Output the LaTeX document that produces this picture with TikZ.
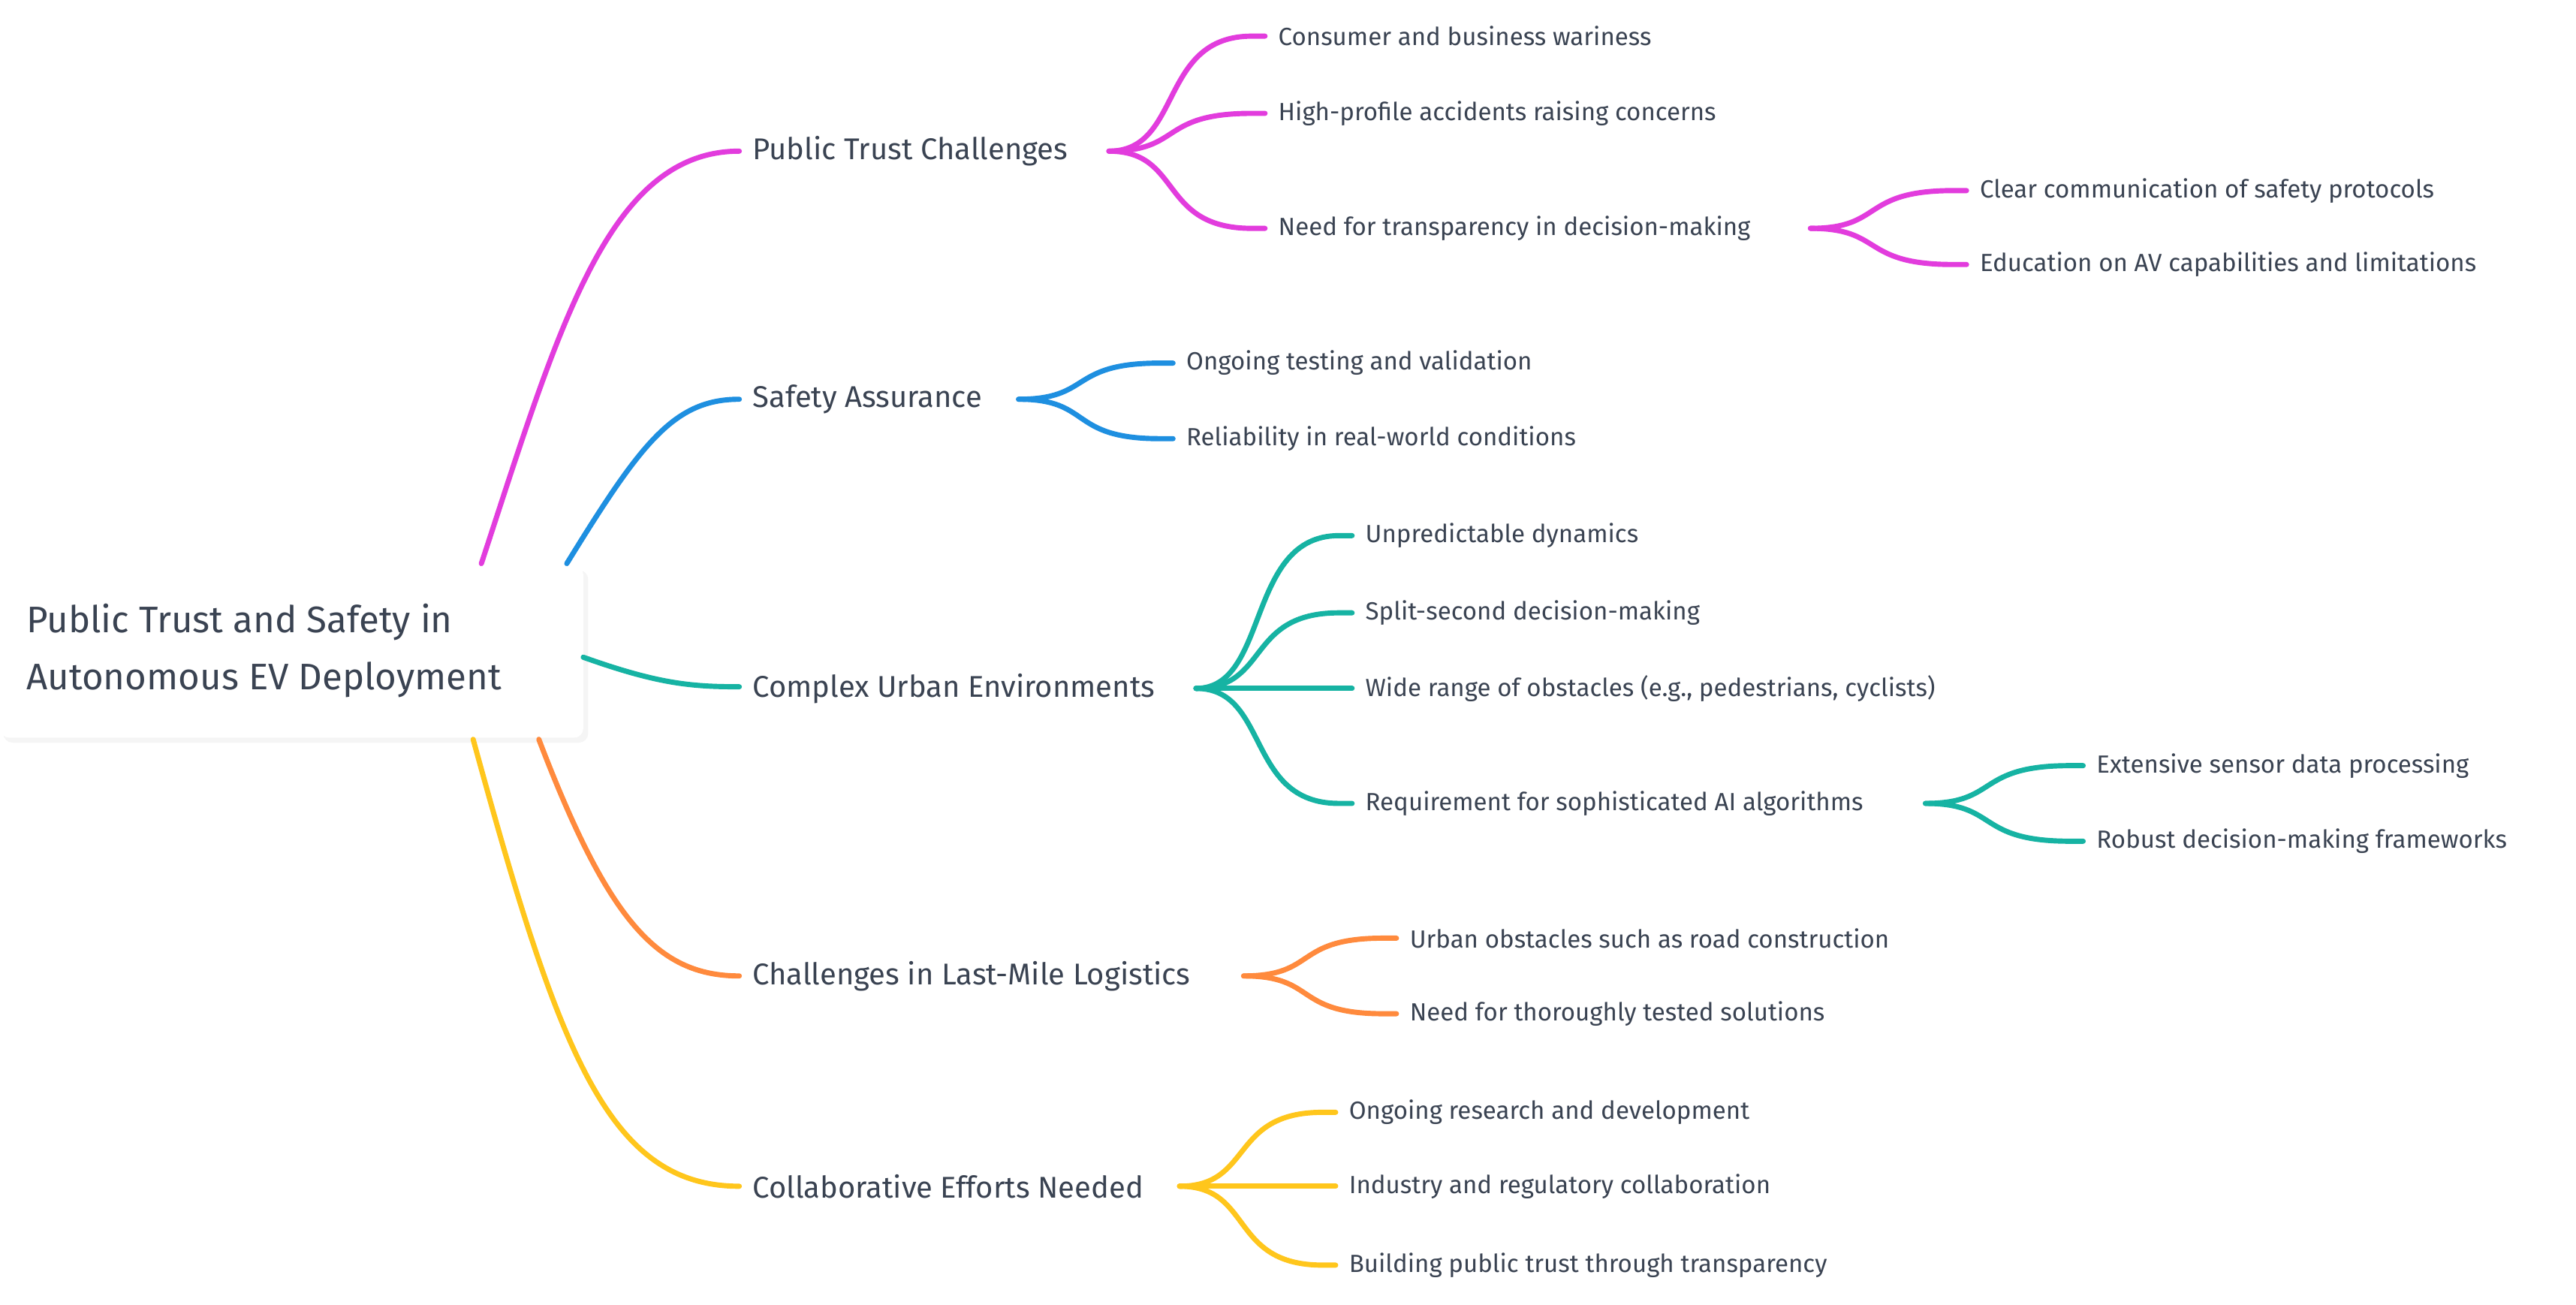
\documentclass[tikz,border=0pt]{standalone}
\usepackage{fontspec}
\setmainfont{Fira Sans}
\begin{document}
\begin{tikzpicture}[x=0.05cm,y=-0.05cm,
  lbl/.style={anchor=west,inner sep=0,text=txt,font=\fontsize{26}{30}\selectfont},
  leaf/.style={anchor=west,inner sep=0,text=txt,font=\fontsize{21.5}{26}\selectfont},
  con/.style={line width=4.5pt,line cap=round},
  br/.style={line width=4.5pt,line cap=round}]
\definecolor{txt}{HTML}{3A4352}
\definecolor{cM}{HTML}{E23CDD}
\definecolor{cB}{HTML}{1E8FE0}
\definecolor{cT}{HTML}{16B3A3}
\definecolor{cO}{HTML}{FF8A3D}
\definecolor{cY}{HTML}{FFC61C}
\useasboundingbox (0,0) rectangle (1568,794);
\fill[white] (0,0) rectangle (1568,794);
\fill[black!4,rounded corners=8] (2,347) rectangle (358,452);
\fill[white,rounded corners=8] (0,344) rectangle (355,449);
\node[anchor=west,inner sep=0,text=txt,align=left,font=\fontsize{32}{50}\selectfont] (root) at (16,396) {Public Trust and Safety in\\Autonomous EV Deployment};
% level 1
\node[lbl] (p1) at (458,92) {Public Trust Challenges};
\node[lbl] (p2) at (458,243) {Safety Assurance};
\node[lbl] (p3) at (458,419) {Complex Urban Environments};
\node[lbl] (p4) at (458,594) {Challenges in Last-Mile Logistics};
\node[lbl] (p5) at (458,722) {Collaborative Efforts Needed};
\coordinate (r1) at (293,343); \coordinate (r2) at (345,343); \coordinate (r3) at (355,400);
\coordinate (r4) at (328,450); \coordinate (r5) at (288,450);
\coordinate (e1) at (450,92); \coordinate (e2) at (450,243); \coordinate (e3) at (450,418);
\coordinate (e4) at (450,594); \coordinate (e5) at (450,722);
\draw[br,cM] (r1) .. controls (340,200) and (370,92) .. (e1);
\draw[br,cB] (r2) .. controls (390,270) and (410,243) .. (e2);
\draw[br,cT] (r3) .. controls (400,416) and (420,418) .. (e3);
\draw[br,cO] (r4) .. controls (370,560) and (400,594) .. (e4);
\draw[br,cY] (r5) .. controls (340,640) and (370,722) .. (e5);
% children
\newcommand\kids[5]{% color, start x, y, end x, list
  \foreach \yy/\tt [count=\i] in {#5}{
    \draw[con,#1] (#2,#3) .. controls (#2+45,#3) and (#2+30,\yy) .. (#4-8,\yy) -- (#4,\yy);
    \node[leaf] at (#4+8,\yy) {\tt};
  }}
\coordinate (s1) at (675,92);
\kids{cM}{675}{92}{770}{22/Consumer and business wariness,69/High-profile accidents raising concerns,139/Need for transparency in decision-making}
\kids{cM}{1102}{139}{1197}{116/Clear communication of safety protocols,161/Education on AV capabilities and limitations}
\kids{cB}{620}{243}{714}{221/Ongoing testing and validation,267/Reliability in real-world conditions}
\kids{cT}{728}{419}{823}{326/Unpredictable dynamics,373/Split-second decision-making,419/{Wide range of obstacles (e.g., pedestrians, cyclists)},489/Requirement for sophisticated AI algorithms}
\kids{cT}{1172}{489}{1268}{466/Extensive sensor data processing,512/Robust decision-making frameworks}
\kids{cO}{757}{594}{850}{571/Urban obstacles such as road construction,617/Need for thoroughly tested solutions}
\kids{cY}{718}{722}{813}{677/Ongoing research and development,722/Industry and regulatory collaboration,770/Building public trust through transparency}
\end{tikzpicture}
\end{document}
